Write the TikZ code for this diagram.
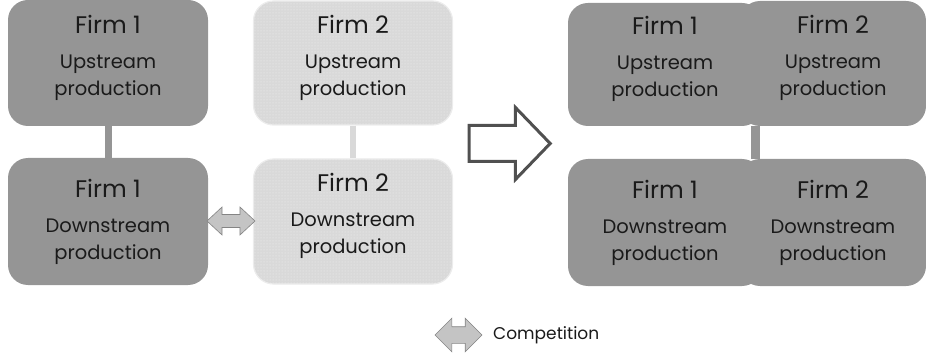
\documentclass[tikz,border=0pt]{standalone}
\usepackage{fontspec}
\setmainfont{Poppins}
\usepackage{xcolor}
\usetikzlibrary{shapes.arrows,patterns}

\definecolor{darkbox}{HTML}{959595}
\definecolor{lightbox}{HTML}{D9D9D9}
\definecolor{textgray}{HTML}{1A1A1A}
\definecolor{arrowfill}{HTML}{C4C4C4}
\definecolor{arrowline}{HTML}{505050}

\tikzset{
  firmbox/.style={rounded corners=20pt, inner sep=0pt, align=center,
    text=textgray, font=\fontsize{19.5}{27}\selectfont},
  upper/.style={text depth=16pt},
  mergedbox/.style={firmbox, fill=darkbox},
  ownbox/.style={firmbox, fill=darkbox},
  rivalbox/.style={firmbox, fill=lightbox, draw=gray!15, line width=1.2pt,
    postaction={pattern=dots, pattern color=white!90!gray}},
  competes/.style={double arrow, draw=arrowline!70, fill=arrowfill,
    line width=0.6pt, inner xsep=0pt, inner ysep=6.2pt, minimum height=48pt,
    double arrow head extend=7.5pt, double arrow tip angle=86},
}
\newcommand{\firm}[1]{{\fontsize{24}{27}\selectfont Firm #1}\\[8pt]}

\begin{document}
\begin{tikzpicture}[x=1pt,y=-1pt]
\useasboundingbox (0,0) rectangle (926,358);

% before the merger
\node[ownbox, upper, minimum width=200pt, minimum height=126pt] (up1) at (108,63)
  {\firm{1}Upstream\\production};
\node[rivalbox, upper, minimum width=199pt, minimum height=124pt] (up2) at (353,63)
  {\firm{2}Upstream\\production};
\node[ownbox, minimum width=200pt, minimum height=127pt] (down1) at (108,221.5)
  {\firm{1}Downstream\\production};
\node[rivalbox, upper, minimum width=199pt, minimum height=125pt] (down2) at (353,221.5)
  {\firm{2}Downstream\\production};
\draw[darkbox, line width=7pt] (up1) -- (down1);
\draw[lightbox, line width=6pt] (up2) -- (down2);
\node[competes] (comp) at (231,221) {};

% merger arrow
\node[single arrow, draw=arrowline, line width=3pt, fill=white, inner xsep=0pt,
  inner ysep=16.5pt, minimum height=81pt, single arrow head extend=18pt,
  single arrow tip angle=92] (merge) at (501,143.5) {};

% after the merger
\node[mergedbox, upper, minimum width=194pt, minimum height=123pt] (mup1) at (665,64.5)
  {\firm{1}Upstream\\production};
\node[mergedbox, upper, minimum width=186pt, minimum height=125pt] (mup2) at (833,63.5)
  {\firm{2}Upstream\\production};
\node[mergedbox, minimum width=194pt, minimum height=127pt] (mdown1) at (665,222.5)
  {\firm{1}Downstream\\production};
\node[mergedbox, minimum width=186pt, minimum height=127pt] (mdown2) at (833,222.5)
  {\firm{2}Downstream\\production};
\coordinate (link) at (755,0);
\draw[darkbox, line width=9pt] (link |- mup1.south) -- (link |- mdown1.north);

% legend
\node[competes, inner ysep=8pt, minimum height=47pt,
  double arrow head extend=8.5pt, double arrow tip angle=90] (key) at (458.5,335) {};
\node[anchor=west, text=textgray, font=\fontsize{17}{19}\selectfont, inner sep=0pt]
  (keytext) at (493,335) {Competition};
\end{tikzpicture}
\end{document}
